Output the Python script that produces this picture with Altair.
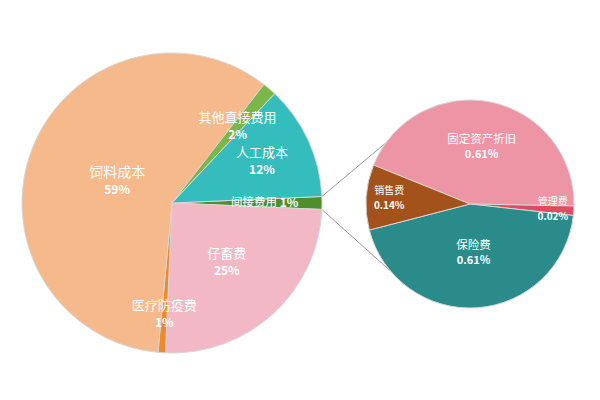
import math
import altair as alt
import pandas as pd

# ---------------- data ----------------
main_names = ["间接费用", "仔畜费", "医疗防疫费", "饲料成本", "其他直接费用", "人工成本"]
main_values = [1.38, 25.0, 0.8, 59.0, 1.5, 12.3]
main_labels = ["1%", "25%", "1%", "59%", "2%", "12%"]

sub_names = ["固定资产折旧", "管理费", "保险费", "销售费"]
sub_values = [0.61, 0.02, 0.61, 0.14]
sub_labels = ["0.61%", "0.02%", "0.61%", "0.14%"]

# ---------------- styles / layout ----------------
main_colors = ["#4F8E2B", "#F2B8C6", "#EE8A2B", "#F6B98B", "#7AB648", "#35BDBD"]
sub_colors = ["#EE95A5", "#E04A62", "#2A8B8A", "#A4521B"]
main_label_r = [96, 81, 112, 59, 101, 99]
sub_label_r = [58, 83, 50, 81]
main_name_size = [11.5, 13, 13, 14, 13, 13]
sub_name_size = [11.5, 10, 11.5, 10]
sub_pct_size = [11, 10, 11, 10]

W, H = 584, 384
MAIN_CX, MAIN_CY, MAIN_R, MAIN_START = 164, 195, 150, 87.5
SUB_CX, SUB_CY, SUB_R, SUB_START = 462, 196, 104, -68.0
SUB_LINK_ANGLES = (306.0, 230.0)
FONT = "Noto Sans CJK SC"


def make_df(names, values, labels, colors, lr, ns, ps):
    return pd.DataFrame({
        "idx": list(range(len(names))),
        "name": names,
        "value": values,
        "label": labels,
        "col": colors,
        "lr": lr,
        "ns": ns,
        "ps": ps,
    })


def pie(df, cx, cy, R, start_deg, name_dy, pct_dy, special=None):
    total = float(df["value"].sum())
    a0 = math.radians(start_deg)
    tscale = alt.Scale(domain=[0, total], range=[a0, a0 + 2 * math.pi])
    base = (
        alt.Chart(df)
        .transform_window(e="sum(value)", sort=[{"field": "idx"}], frame=[None, 0])
        .transform_calculate(s="datum.e - datum.value", m="datum.e - datum.value / 2")
    )
    arcs = base.mark_arc(outerRadius=R, x=cx, y=cy, stroke="#d6d6d6", strokeWidth=1).encode(
        theta=alt.Theta("s:Q", scale=tscale),
        theta2="e:Q",
        color=alt.Color("col:N", scale=None),
    )
    flt = "datum.name !== '%s'" % special if special else "true"
    names = base.transform_filter(flt).mark_text(
        x=cx, y=cy, dy=name_dy, color="white", font=FONT, baseline="middle"
    ).encode(
        theta=alt.Theta("m:Q", scale=tscale),
        radius=alt.Radius("lr:Q", scale=None),
        text="name:N",
        size=alt.Size("ns:Q", scale=None),
    )
    pcts = base.transform_filter(flt).mark_text(
        x=cx, y=cy, dy=pct_dy, color="white", font=FONT, fontWeight="bold", baseline="middle"
    ).encode(
        theta=alt.Theta("m:Q", scale=tscale),
        radius=alt.Radius("lr:Q", scale=None),
        text="label:N",
        size=alt.Size("ps:Q", scale=None),
    )
    layers = [arcs, names, pcts]
    if special:
        sp = base.transform_filter("datum.name === '%s'" % special)
        layers.append(sp.mark_text(x=cx, y=cy, dx=-14, color="white", font=FONT, baseline="middle").encode(
            theta=alt.Theta("m:Q", scale=tscale),
            radius=alt.Radius("lr:Q", scale=None),
            text="name:N",
            size=alt.Size("ns:Q", scale=None),
        ))
        layers.append(sp.mark_text(x=cx, y=cy, dx=21, color="white", font=FONT, fontWeight="bold",
                                   baseline="middle").encode(
            theta=alt.Theta("m:Q", scale=tscale),
            radius=alt.Radius("lr:Q", scale=None),
            text="label:N",
            size=alt.Size("ps:Q", scale=None),
        ))
    return alt.layer(*layers)


main_df = make_df(main_names, main_values, main_labels, main_colors, main_label_r,
                  main_name_size, [12] * len(main_names))
sub_df = make_df(sub_names, sub_values, sub_labels, sub_colors, sub_label_r,
                 sub_name_size, sub_pct_size)

main_layer = pie(main_df, MAIN_CX, MAIN_CY, MAIN_R, MAIN_START, -8.5, 8.5, special="间接费用")
sub_layer = pie(sub_df, SUB_CX, SUB_CY, SUB_R, SUB_START, -7.5, 7.5)

# connector lines: from the edges of the exploded slice to the secondary pie
main_total = sum(main_values)
a_start = MAIN_START
a_end = MAIN_START + main_values[0] / main_total * 360.0


def pt(cx, cy, r, deg):
    a = math.radians(deg)
    return cx + r * math.sin(a), cy - r * math.cos(a)


p1 = pt(MAIN_CX, MAIN_CY, MAIN_R, a_start)
q1 = pt(SUB_CX, SUB_CY, SUB_R, SUB_LINK_ANGLES[0])
p2 = pt(MAIN_CX, MAIN_CY, MAIN_R, a_end)
q2 = pt(SUB_CX, SUB_CY, SUB_R, SUB_LINK_ANGLES[1])
links = pd.DataFrame({"x": [p1[0], p2[0]], "y": [p1[1], p2[1]],
                      "x2": [q1[0], q2[0]], "y2": [q1[1], q2[1]]})
link_layer = alt.Chart(links).mark_rule(color="#9a9a9a", strokeWidth=1).encode(
    x=alt.X("x:Q", scale=None), y=alt.Y("y:Q", scale=None),
    x2="x2:Q", y2="y2:Q",
)

chart = (
    alt.layer(link_layer, main_layer, sub_layer)
    .resolve_scale(theta="independent")
    .properties(width=W, height=H, padding=0, autosize=alt.AutoSizeParams(type="none"),
                background="white")
    .configure_view(stroke=None)
)

chart.save("out.html", embed_options={"renderer": "svg", "actions": False})
